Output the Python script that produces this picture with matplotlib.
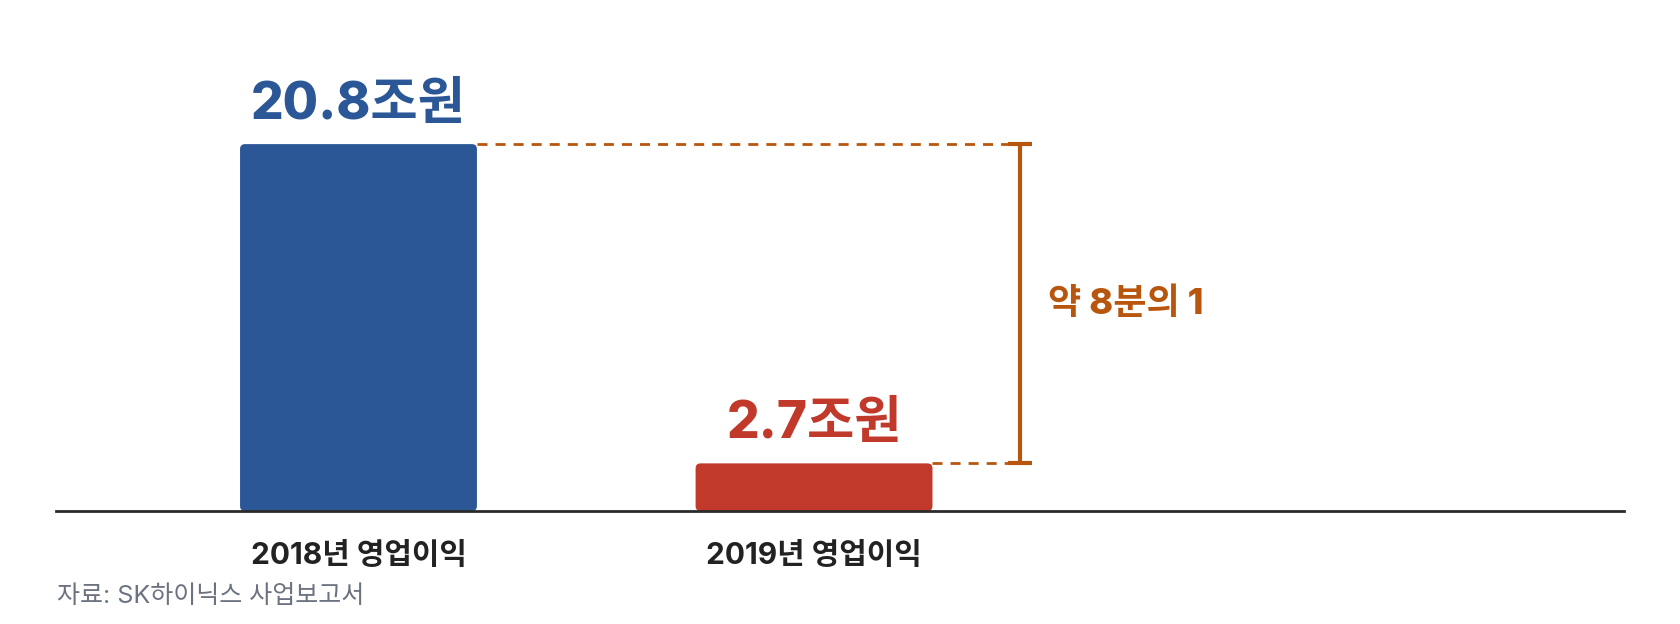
import matplotlib.pyplot as plt
from matplotlib.patches import FancyBboxPatch

# Inter for latin/digits, Noto CJK for hangul (close to Pretendard)
plt.rcParams['font.family'] = ['Inter', 'Noto Sans CJK KR', 'DejaVu Sans']

categories = ['2018년 영업이익', '2019년 영업이익']
values = [20.8, 2.7]
value_labels = ['20.8조원', '2.7조원']
bar_colors = ['#2B5797', '#C0392B']
ratio_label = '약 8분의 1'
source = '자료: SK하이닉스 사업보고서'

orange = '#B8560E'
W, H = 1680, 624
fig = plt.figure(figsize=(W / 100, H / 100), dpi=100)
# axes = baseline span, from the baseline up to the top of the figure
ax = fig.add_axes([56 / W, 113 / H, 1568 / W, 511 / H])
ax.set_xlim(-0.664, 2.778)
ax.set_ylim(0, 28.97)
ax.axis('off')

bw = 0.52
# aspect between y units and x units per pixel, for round corners
xpp = (2.778 + 0.664) / 1568
ypp = 28.97 / 511
for i, v in enumerate(values):
    p = FancyBboxPatch((i - bw / 2, 0), bw, v,
                       boxstyle='round,pad=0,rounding_size=%f' % (5 * xpp),
                       mutation_aspect=ypp / xpp,
                       fc=bar_colors[i], ec='none', zorder=2)
    ax.add_patch(p)
    ax.annotate(value_labels[i], (i, v), xytext=(0, 18), textcoords='offset points',
                ha='center', va='baseline', fontsize=37, fontweight=800,
                color=bar_colors[i])
    ax.annotate(categories[i], (i, 0), xytext=(0, -38), textcoords='offset points',
                ha='center', va='baseline', fontsize=21.5, fontweight='bold',
                color='#222222')

ax.axhline(0, color='#2a2a2a', lw=2, zorder=3, clip_on=False)

# bracket between the two values
bx = 1.452
cap = 0.026
for i, v in enumerate(values):
    ax.plot([i + bw / 2, bx - cap], [v, v], color=orange, lw=2,
            dashes=(3.6, 2.9), zorder=1)
    ax.plot([bx - cap, bx + cap], [v, v], color=orange, lw=3, solid_capstyle='butt')
ax.plot([bx, bx], values, color=orange, lw=3, solid_capstyle='butt')
ax.text(bx + 0.062, (values[0] + values[1]) / 2, ratio_label, ha='left', va='center',
        fontsize=26, fontweight=800, color=orange)

fig.text(57 / W, 21 / H, source, ha='left', va='baseline', fontsize=18, color='#6B7280')

fig.savefig('out.png', dpi=100, facecolor='white')
